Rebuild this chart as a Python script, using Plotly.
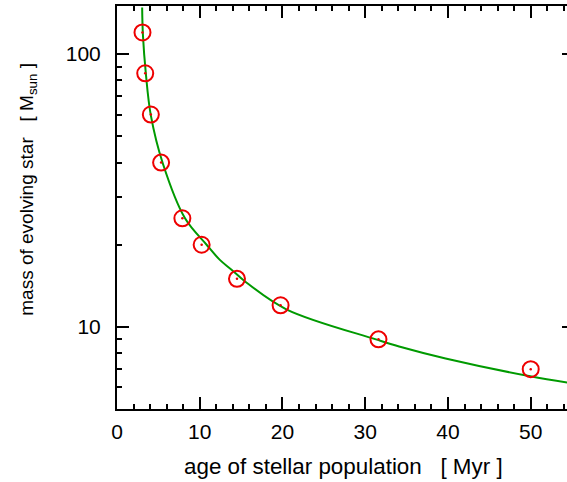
import plotly.graph_objects as go

# measured data points (age in Myr, stellar mass in Msun)
age = [3.08, 3.41, 4.09, 5.33, 7.9, 10.23, 14.5, 19.77, 31.6, 50.0]
mass = [120, 85, 60, 40, 25, 20, 15, 12, 9, 7]

# fitted curve
curve_age = [3.04, 3.13, 3.49, 4.09, 5.54, 8.22, 10.83, 12.43,
             13.84, 15.44, 20.46, 31.29, 34.09, 39.71, 49.94, 55.2]
curve_mass = [148, 118, 84.6, 59.6, 39.7, 25.0, 20.0, 17.6,
              16.2, 14.7, 11.6, 9.0, 8.47, 7.66, 6.59, 6.2]

x_ticks = [0, 10, 20, 30, 40, 50]
y_ticks = [10, 100]
y_minor = [6, 7, 8, 9, 20, 30, 40, 50, 60, 70, 80, 90]

FONT = "Liberation Sans, Arial, sans-serif"

fig = go.Figure()
fig.add_trace(go.Scatter(x=curve_age, y=curve_mass, mode="lines",
                         line=dict(color="#009a00", width=2, shape="spline"),
                         hoverinfo="skip", showlegend=False))
fig.add_trace(go.Scatter(x=age, y=mass, mode="markers",
                         marker=dict(symbol="circle-open", size=16,
                                     color="#ee0000", line=dict(width=2, color="#ee0000")),
                         showlegend=False))
fig.add_trace(go.Scatter(x=age, y=mass, mode="markers",
                         marker=dict(symbol="circle", size=2.5, color="#ee0000"),
                         showlegend=False))

fig.update_layout(
    width=576, height=482,
    margin=dict(l=117, r=0, t=6, b=73),
    paper_bgcolor="white", plot_bgcolor="white",
    font=dict(family=FONT, size=21, color="black"),
    xaxis=dict(range=[0, 55.23], tickvals=x_ticks, ticks="inside", ticklen=12,
               tickwidth=2, tickcolor="black", showline=True, linewidth=2,
               linecolor="black", mirror="allticks", showgrid=False, zeroline=False,
               ticklabelstandoff=3,
               minor=dict(dtick=2, ticks="inside", ticklen=5, tickwidth=2,
                          tickcolor="black", showgrid=False)),
    yaxis=dict(type="log", range=[0.69897, 2.17609], tickvals=y_ticks,
               ticktext=[str(v) for v in y_ticks], ticks="inside", ticklen=12,
               tickwidth=2, tickcolor="black", showline=True, linewidth=2,
               linecolor="black", mirror="allticks", showgrid=False, zeroline=False,
               ticklabelstandoff=10,
               minor=dict(tickvals=y_minor, ticks="inside", ticklen=5, tickwidth=2,
                          tickcolor="black", showgrid=False)),
    annotations=[
        dict(text="age of stellar population   [ Myr ]", xref="paper", yref="paper",
             x=0.4956, y=-0.1439, xanchor="center", yanchor="middle",
             showarrow=False, font=dict(size=22.4)),
        dict(text="mass of evolving star   [ M<sub>sun</sub> ]", xref="paper", yref="paper",
             x=-0.1939, y=0.545, xanchor="center", yanchor="middle", textangle=-90,
             showarrow=False, font=dict(size=19)),
    ],
)

fig.write_html(
    "out.html",
    config={"displayModeBar": False},
    post_script="document.body.style.margin='0';document.body.style.overflow='hidden';"
                "document.documentElement.style.overflow='hidden';",
)
